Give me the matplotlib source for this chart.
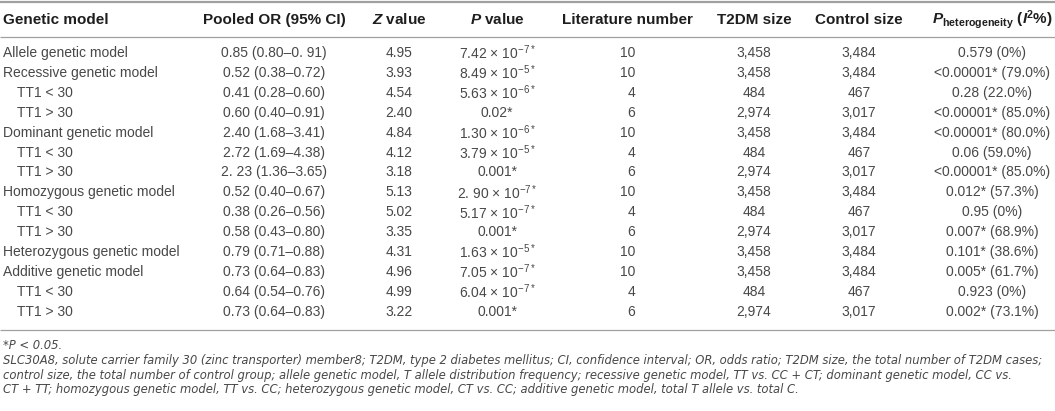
import matplotlib
matplotlib.use('Agg')
import matplotlib.pyplot as plt
from matplotlib import font_manager

plt.rcParams['font.family'] = ['Liberation Sans', 'DejaVu Sans']
plt.rcParams['mathtext.fontset'] = 'custom'
plt.rcParams['mathtext.rm'] = 'Liberation Sans'
plt.rcParams['mathtext.it'] = 'Liberation Sans:italic'
plt.rcParams['mathtext.bf'] = 'Liberation Sans:bold'
plt.rcParams['mathtext.bfit'] = 'Liberation Sans:italic:bold'

# table content
headers = ['Genetic model', 'Pooled OR (95% CI)', r'$\mathbfit{Z}$ value', r'$\mathbfit{P}$ value',
           'Literature number', 'T2DM size', 'Control size',
           r'$\mathbfit{P}_{\mathbf{heterogeneity}}$ ($\mathbfit{I}^{\mathbf{2}}$%)']

models = ['Allele genetic model', 'Recessive genetic model', 'TT1 < 30', 'TT1 > 30',
          'Dominant genetic model', 'TT1 < 30', 'TT1 > 30',
          'Homozygous genetic model', 'TT1 < 30', 'TT1 > 30',
          'Heterozygous genetic model', 'Additive genetic model', 'TT1 < 30', 'TT1 > 30']
pooled_or = ['0.85 (0.80–0. 91)', '0.52 (0.38–0.72)', '0.41 (0.28–0.60)', '0.60 (0.40–0.91)',
             '2.40 (1.68–3.41)', '2.72 (1.69–4.38)', '2. 23 (1.36–3.65)',
             '0.52 (0.40–0.67)', '0.38 (0.26–0.56)', '0.58 (0.43–0.80)',
             '0.79 (0.71–0.88)', '0.73 (0.64–0.83)', '0.64 (0.54–0.76)', '0.73 (0.64–0.83)']
z_value = ['4.95', '3.93', '4.54', '2.40', '4.84', '4.12', '3.18',
           '5.13', '5.02', '3.35', '4.31', '4.96', '4.99', '3.22']
p_value = [r'7.42 × $10^{-7*}$', r'8.49 × $10^{-5*}$', r'5.63 × $10^{-6*}$', '0.02*',
           r'1.30 × $10^{-6*}$', r'3.79 × $10^{-5*}$', '0.001*',
           r'2. 90 × $10^{-7*}$', r'5.17 × $10^{-7*}$', '0.001*',
           r'1.63 × $10^{-5*}$', r'7.05 × $10^{-7*}$', r'6.04 × $10^{-7*}$', '0.001*']
lit_number = ['10', '10', '4', '6', '10', '4', '6', '10', '4', '6', '10', '10', '4', '6']
t2dm_size = ['3,458', '3,458', '484', '2,974', '3,458', '484', '2,974',
             '3,458', '484', '2,974', '3,458', '3,458', '484', '2,974']
control_size = ['3,484', '3,484', '467', '3,017', '3,484', '467', '3,017',
                '3,484', '467', '3,017', '3,484', '3,484', '467', '3,017']
p_het = ['0.579 (0%)', '<0.00001* (79.0%)', '0.28 (22.0%)', '<0.00001* (85.0%)',
         '<0.00001* (80.0%)', '0.06 (59.0%)', '<0.00001* (85.0%)',
         '0.012* (57.3%)', '0.95 (0%)', '0.007* (68.9%)',
         '0.101* (38.6%)', '0.005* (61.7%)', '0.923 (0%)', '0.002* (73.1%)']

notes = ['*P < 0.05.',
         'SLC30A8, solute carrier family 30 (zinc transporter) member8; T2DM, type 2 diabetes mellitus; CI, confidence interval; OR, odds ratio; T2DM size, the total number of T2DM cases;',
         'control size, the total number of control group; allele genetic model, T allele distribution frequency; recessive genetic model, TT vs. CC + CT; dominant genetic model, CC vs.',
         'CT + TT; homozygous genetic model, TT vs. CC; heterozygous genetic model, CT vs. CC; additive genetic model, total T allele vs. total C.']

W, H = 1055, 411
fig = plt.figure(figsize=(W / 100, H / 100), dpi=100)
ax = fig.add_axes([0, 0, 1, 1])
ax.set_xlim(0, W)
ax.set_ylim(H, 0)
ax.axis('off')

body_col = '#484848'
head_col = '#1e1e1e'
fs = 10

# column x positions and alignment
col_x = [3, 274, 399, 497, 627, 754, 859, 992]
col_ha = ['left', 'center', 'center', 'center', 'center', 'center', 'center', 'center']

y_head = 20
y0, dy = 53, 19.9

# rules
ax.plot([0, W], [2, 2], color='#a0a0a0', lw=1.6, solid_capstyle='butt')
ax.plot([0, W], [37, 37], color='#a0a0a0', lw=0.9, solid_capstyle='butt')
y_bottom = y0 + 13 * dy + 18
ax.plot([0, W], [y_bottom, y_bottom], color='#a0a0a0', lw=0.9, solid_capstyle='butt')

for x, ha, h in zip(col_x, col_ha, headers):
    ax.text(x, y_head, h, ha=ha, va='center', fontsize=fs + 1, fontweight='bold', color=head_col)

cols = [pooled_or, z_value, p_value, lit_number, t2dm_size, control_size, p_het]
for i, m in enumerate(models):
    y = y0 + i * dy
    indent = 14 if m.startswith('TT1') else 0
    ax.text(col_x[0] + indent, y, m, ha='left', va='center', fontsize=fs, color=body_col)
    for j, c in enumerate(cols):
        if j == 3:
            # literature number is right aligned
            ax.text(635, y, c[i], ha='right', va='center', fontsize=fs, color=body_col)
        else:
            ax.text(col_x[j + 1], y, c[i], ha='center', va='center', fontsize=fs, color=body_col)

# footnotes: try a narrow / condensed regular-weight italic face, else plain italic
def weight_num(wt):
    if isinstance(wt, int):
        return wt
    return font_manager.weight_dict.get(wt, 400)

note_font = None
for f in font_manager.fontManager.ttflist:
    narrow = 'Narrow' in f.name or 'Condensed' in f.name or f.stretch in ('condensed', 'semi-condensed')
    if narrow and f.style in ('italic', 'oblique') and weight_num(f.weight) <= 400:
        note_font = font_manager.FontProperties(fname=f.fname, size=9)
        break
if note_font is None:
    note_font = font_manager.FontProperties(family='Liberation Sans', style='italic', size=9)

# size the footnote so the long line fills the width
fig.canvas.draw()
r = fig.canvas.get_renderer()
probe = ax.text(3, 0, notes[1], fontproperties=note_font)
w = probe.get_window_extent(renderer=r).width
probe.remove()
note_font.set_size(9 * 1045 / w)

note_y = [y_bottom + 16, y_bottom + 31, y_bottom + 45.5, y_bottom + 60]
for y, t in zip(note_y, notes):
    ax.text(3, y, t, ha='left', va='center', fontproperties=note_font, color=body_col)

fig.savefig('out.png', dpi=100)
